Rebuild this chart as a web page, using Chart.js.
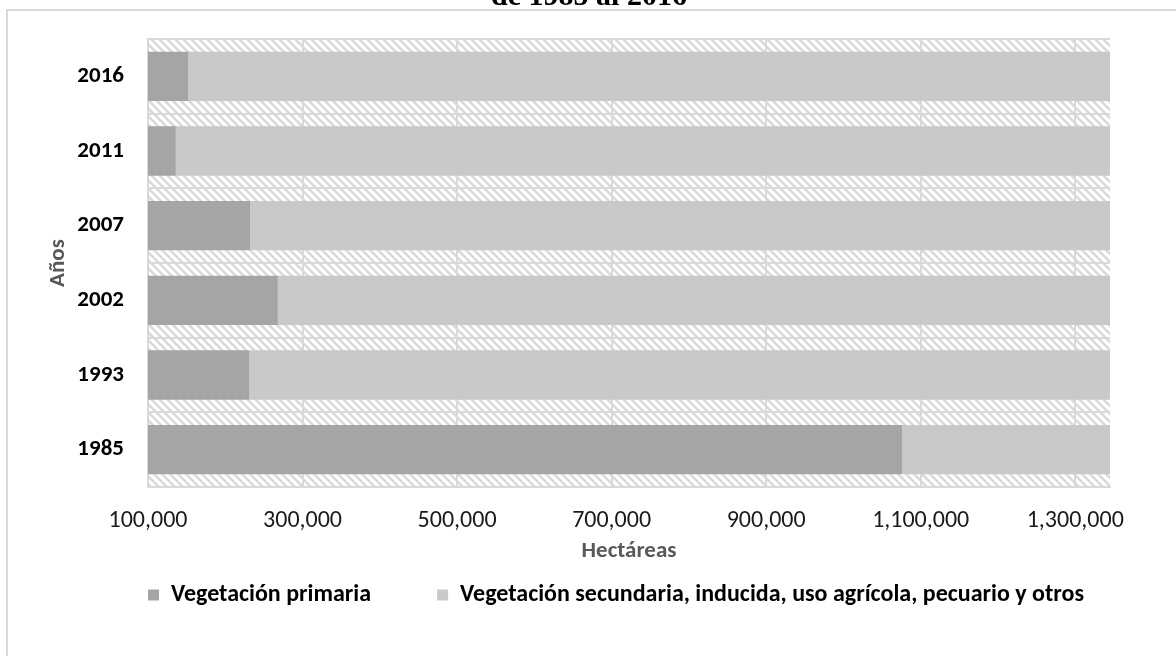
<!DOCTYPE html>
<html>
<head>
<meta charset="utf-8">
<script src="https://cdn.jsdelivr.net/npm/chart.js@4/dist/chart.umd.min.js"></script>
<style>
html,body{margin:0;padding:0;width:1176px;height:656px;overflow:hidden;background:#fff;}
#frame{position:absolute;left:6px;top:9px;width:1300px;height:800px;border:2px solid #d9d9d9;box-sizing:border-box;}
#wrap{position:absolute;left:0;top:0;width:1176px;height:656px;}
</style>
</head>
<body>
<div id="frame"></div>
<div id="wrap"><canvas id="c" width="1176" height="656"></canvas></div>
<script>
// ---- data ----
const years = ['2016', '2011', '2007', '2002', '1993', '1985'];
const primaria = [152000, 136000, 232000, 268000, 231000, 1076000];
const secundaria = [1254000, 1270000, 1174000, 1138000, 1175000, 330000];
const xTicks = [100000, 300000, 500000, 700000, 900000, 1100000, 1300000];
const xMin = 100000;
const xMax = 1345000;
const seriesNames = ['Vegetación primaria', 'Vegetación secundaria, inducida, uso agrícola, pecuario y otros'];
const titleText = 'de 1985 al 2016';

const FAM = "Carlito, Lato, 'Open Sans', sans-serif";

function makePattern() {
  const c = document.createElement('canvas');
  c.width = 8; c.height = 8;
  const p = c.getContext('2d');
  p.fillStyle = '#ffffff';
  p.fillRect(0, 0, 8, 8);
  p.strokeStyle = '#d9d9d9';
  p.lineWidth = 2.5;
  p.beginPath();
  for (let k = -1; k <= 1; k++) {
    p.moveTo(k * 8 - 2, -2);
    p.lineTo(k * 8 + 10, 10);
  }
  p.stroke();
  return c;
}

const hatchPlugin = {
  id: 'hatch',
  beforeDraw(chart) {
    const {ctx, chartArea: a} = chart;
    ctx.save();
    ctx.fillStyle = ctx.createPattern(makePattern(), 'repeat');
    ctx.fillRect(a.left, a.top, a.right - a.left, a.bottom - a.top);
    ctx.restore();
  },
  afterDraw(chart) {
    const ctx = chart.ctx;
    ctx.save();
    ctx.font = "bold 30px 'Liberation Serif', serif";
    ctx.fillStyle = '#000';
    ctx.textAlign = 'center';
    ctx.textBaseline = 'alphabetic';
    ctx.fillText(titleText, 589, 5);
    ctx.restore();
  }
};

const legendPos = {
  id: 'legendPos',
  afterLayout(chart) {
    const lg = chart.legend;
    if (!lg || !lg.lineWidths) return;
    const pad = lg.options.labels.padding;
    const start = (lg.left + pad + lg.right - lg.lineWidths[0]) / 2;
    const dx = 148 - start;
    lg.left += dx; lg.right += dx;
    const itemH = 24;
    const dy = (595 - pad - itemH / 2) - lg.top;
    lg.top += dy; lg.bottom += dy;
  }
};

new Chart(document.getElementById('c'), {
  type: 'bar',
  data: {
    labels: years,
    datasets: [
      {label: seriesNames[0], data: primaria, backgroundColor: '#a5a5a5', borderWidth: 0, barPercentage: 0.66, categoryPercentage: 1},
      {label: seriesNames[1], data: secundaria, backgroundColor: '#c9c9c9', borderWidth: 0, barPercentage: 0.66, categoryPercentage: 1}
    ]
  },
  options: {
    indexAxis: 'y',
    responsive: false,
    animation: false,
    layout: {padding: {top: 39, left: 0, right: 66, bottom: 0}},
    plugins: {
      legend: {
        position: 'bottom',
        maxHeight: 93,
        labels: {boxWidth: 11, boxHeight: 11, padding: 66, color: '#000', font: {family: FAM, size: 24, weight: 'bold'}}
      },
      tooltip: {enabled: false},
      title: {display: false}
    },
    scales: {
      x: {
        stacked: true,
        min: xMin,
        max: xMax,
        afterBuildTicks: s => { s.ticks = xTicks.map(v => ({value: v})); },
        afterFit: s => { s.height = 76; },
        grid: {color: '#d9d9d9', lineWidth: 2, drawTicks: false},
        border: {color: '#d9d9d9', width: 2},
        ticks: {padding: 20, color: '#1a1a1a', autoSkip: false, maxRotation: 0,
                font: {family: FAM, size: 24},
                callback: v => Number(v).toLocaleString('en-US')},
        title: {display: true, text: 'Hectáreas', color: '#595959', padding: 0,
                font: {family: FAM, size: 23, weight: 'bold', lineHeight: 1}}
      },
      y: {
        stacked: true,
        afterFit: s => { s.width = 148; },
        grid: {color: '#d9d9d9', lineWidth: 2, drawTicks: false, offset: true},
        border: {color: '#d9d9d9', width: 2},
        ticks: {padding: 24, color: '#000', font: {family: FAM, size: 23, weight: 'bold'}},
        title: {display: true, text: 'Años', color: '#595959', padding: {top: 44, bottom: 0},
                font: {family: FAM, size: 23, weight: 'bold'}}
      }
    }
  },
  plugins: [hatchPlugin, legendPos]
});
</script>
</body>
</html>
